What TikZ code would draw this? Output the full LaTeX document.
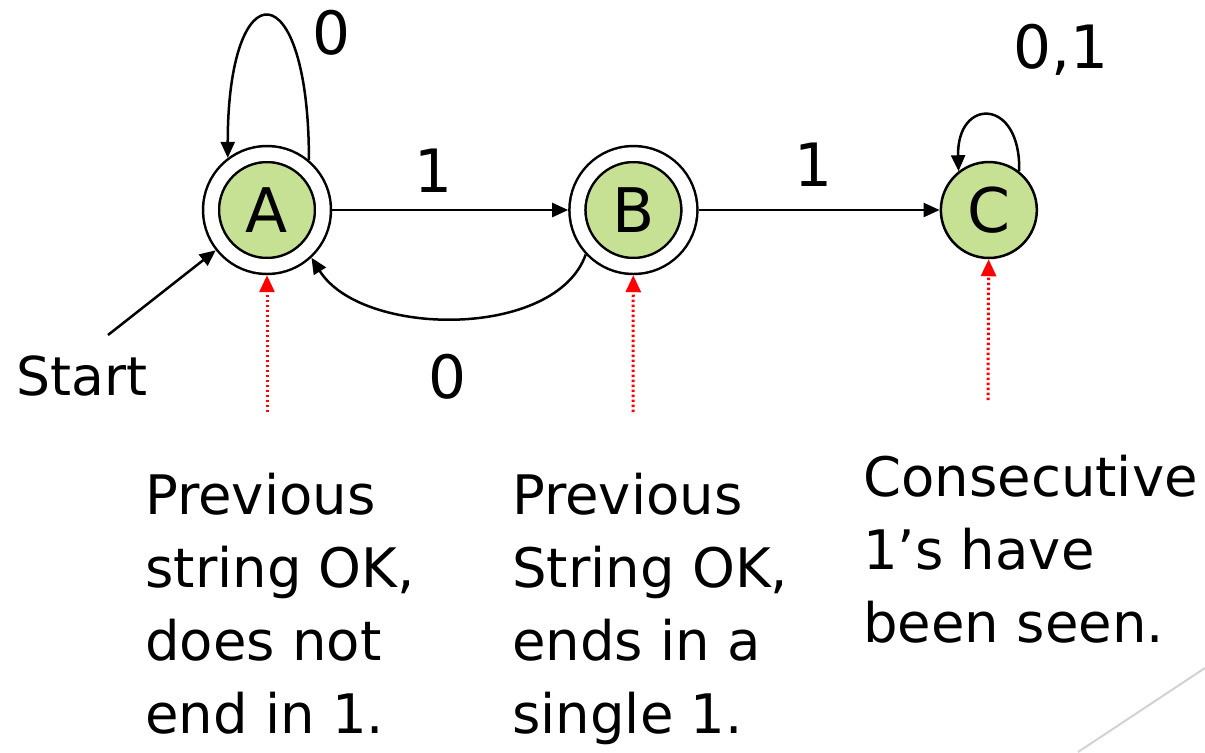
\documentclass[tikz,border=0pt]{standalone}
\usepackage{fontspec}
\setmainfont{DejaVu Sans}
\usetikzlibrary{positioning,arrows.meta}
\definecolor{stategreen}{RGB}{198,224,148}

\begin{document}
\begin{tikzpicture}[x=0.02cm, y=0.02cm,
        state/.style={circle, draw=black, line width=0.05cm, fill=stategreen, minimum size=1.92cm, inner sep=0pt, font=\fontsize{35}{40}\selectfont},
        accept/.style={state, double, double distance=0.27cm, minimum size=2.24cm, outer sep=0.185cm},
        trans/.style={line width=0.05cm, -{Triangle[length=0.32cm,width=0.28cm]}},
        hint/.style={red, line width=0.06cm, dash pattern=on 0.05cm off 0.05cm, -{Triangle[length=0.34cm,width=0.3cm]}},
        lbl/.style={inner sep=0pt, font=\fontsize{34}{40}\selectfont},
        txt/.style={align=left, inner sep=0pt, anchor=north west, font=\fontsize{31}{41.5}\selectfont}
    ]
    \useasboundingbox (0,0) rectangle (1205,-752);

    %states
    \node[accept]   (A)   at (267,-210)        {A};
    \node[accept]   (B)   [right=4.72cm of A]  {B};
    \node[state]    (C)   [right=4.82cm of B]  {C};

    %start
    \node[lbl, font=\fontsize{30.5}{40}\selectfont, anchor=base] (start) at (82,-395) {Start};
    \coordinate (s0) at (108,-335);
    \draw[trans] (s0) -- (A);

    %transitions
    \draw[trans] (A) -- (B) node[lbl, pos=0.43, above=0.32cm] {1};
    \draw[trans] (B) -- (C) node[lbl, pos=0.475, above=0.44cm] {1};
    \draw[trans] (A.50) .. controls +(0,190) and +(0,190) .. (A.127);
    \draw[trans] (C.52) .. controls +(2,74) and +(-2,74) .. (C.128);
    \draw[trans] (B.223) .. controls +(-30,-85) and +(50,-80) .. (A.313);

    %loop and back labels
    \node[lbl] (lA) at (332,-33)  {0};
    \node[lbl] (lC) at (1061,-50) {0,1};
    \node[lbl] (lB) at (448,-377) {0};

    %hints
    \coordinate (hA) at (267,-412);
    \coordinate (hB) at (633,-412);
    \coordinate (hC) at (988,-400);
    \draw[hint] (hA) -- (A);
    \draw[hint] (hB) -- (B);
    \draw[hint] (hC) -- (C);

    %notes
    \node[txt] (tA) at (145,-473) {Previous\\string OK,\\does not\\end in 1.};
    \node[txt] (tB) at (512,-473) {Previous\\String OK,\\ends in a\\single 1.};
    \node[txt] (tC) at (863,-455) {Consecutive\\1’s have\\been seen.};

    %corner
    \draw[gray!35, line width=0.04cm] (1078,-752) -- (1205,-668);

\end{tikzpicture}
\end{document}
